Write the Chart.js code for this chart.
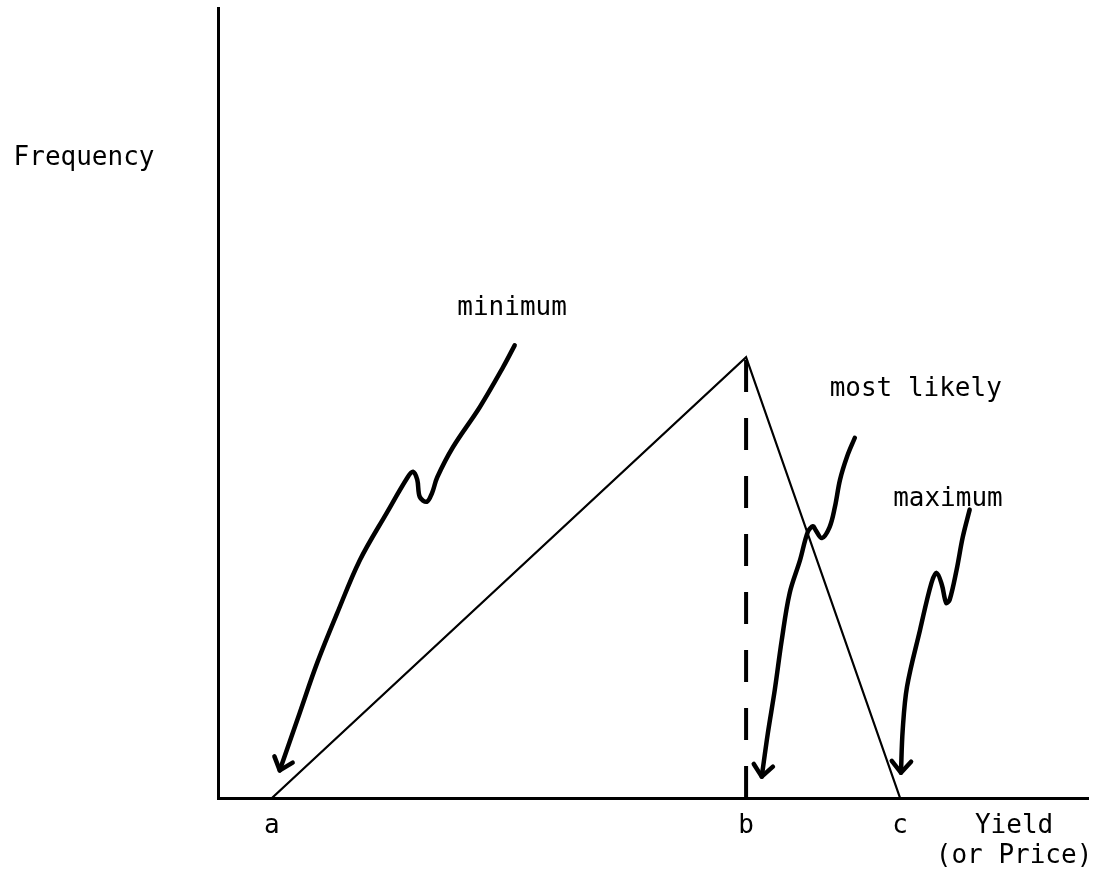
<!DOCTYPE html>
<html lang="en">
<head>
    <meta charset="UTF-8">
    <title>Triangular distribution - Yield (or Price)</title>
    <script src="https://cdn.jsdelivr.net/npm/chart.js"></script>
    <style>
        body { margin: 0; background: #fff; }
    </style>
</head>
<body>
    <canvas id="triChart" width="1107" height="882"></canvas>

    <script>
        // x = yield (or price), y = frequency, both on a 0..100 scale
        const pointNames = ["a", "b", "c"];
        const pointX = [6.2, 60.7, 78.4];
        const peakY = 55.8;

        const axisNameX = 91.5;
        const axisName = ["Yield", "(or Price)"];

        // hand drawn arrows, from the tail down to the tip
        const minArrowX = [34.1, 32.8, 30.1, 27.0, 25.2, 24.6, 24.0, 23.2, 22.9, 22.4, 21.8, 19.4, 16.3, 13.7, 11.4, 9.4, 7.1];
        const minArrowY = [57.3, 54.6, 49.5, 44.4, 40.6, 38.6, 37.5, 38.1, 40.3, 41.3, 40.6, 36.1, 30.1, 23.4, 17.1, 10.8, 3.5];
        const likelyArrowX = [73.2, 72.3, 71.5, 70.9, 70.3, 69.4, 68.7, 68.4, 67.8, 66.9, 65.7, 64.8, 64.0, 63.2, 62.5];
        const likelyArrowY = [45.6, 43.2, 40.3, 36.8, 34.3, 32.9, 33.9, 34.4, 33.7, 30.1, 25.9, 20.0, 13.7, 8.2, 2.7];
        const maxArrowX = [86.4, 85.6, 84.9, 84.1, 83.7, 83.2, 82.6, 82.0, 80.7, 79.2, 78.7, 78.5];
        const maxArrowY = [36.5, 33.0, 28.9, 25.1, 24.7, 27.0, 28.5, 27.2, 21.3, 14.1, 8.6, 3.2];

        const noteText = ["Frequency", "minimum", "most likely", "maximum"];
        const noteX = [-15.4, 33.8, 80.2, 83.9];
        const noteY = [81.0, 62.0, 51.7, 37.8];

        const ink = "#000";
        const font = '"DejaVu Sans Mono", "Liberation Mono", monospace';

        function toPoints(xs, ys) {
            return xs.map((x, i) => ({ x: x, y: ys[i] }));
        }

        function arrowSet(xs, ys) {
            return {
                data: toPoints(xs, ys),
                showLine: true,
                borderColor: ink,
                borderWidth: 4.5,
                pointRadius: 0,
                tension: 0.35,
                borderCapStyle: "round",
                borderJoinStyle: "round",
                arrow: true
            };
        }

        // arrow heads at the last point of each arrow
        const arrowHeads = {
            id: "arrowHeads",
            afterDatasetsDraw(chart) {
                const ctx = chart.ctx;
                const xs = chart.scales.x, ys = chart.scales.y;
                chart.data.datasets.forEach(ds => {
                    if (!ds.arrow) return;
                    const pts = ds.data;
                    const tip = pts[pts.length - 1];
                    const prev = pts[pts.length - 2];
                    const tx = xs.getPixelForValue(tip.x), ty = ys.getPixelForValue(tip.y);
                    const px = xs.getPixelForValue(prev.x), py = ys.getPixelForValue(prev.y);
                    const ang = Math.atan2(ty - py, tx - px);
                    const len = 15, spread = 0.7;
                    ctx.save();
                    ctx.strokeStyle = ink;
                    ctx.lineWidth = 4.5;
                    ctx.lineCap = "round";
                    ctx.lineJoin = "round";
                    ctx.beginPath();
                    ctx.moveTo(tx - len * Math.cos(ang - spread), ty - len * Math.sin(ang - spread));
                    ctx.lineTo(tx, ty);
                    ctx.lineTo(tx - len * Math.cos(ang + spread), ty - len * Math.sin(ang + spread));
                    ctx.stroke();
                    ctx.restore();
                });
            }
        };

        const notes = {
            id: "notes",
            afterDraw(chart) {
                const ctx = chart.ctx;
                ctx.save();
                ctx.fillStyle = ink;
                ctx.font = "26px " + font;
                ctx.textAlign = "center";
                ctx.textBaseline = "middle";
                noteText.forEach((t, i) => {
                    ctx.fillText(t, chart.scales.x.getPixelForValue(noteX[i]), chart.scales.y.getPixelForValue(noteY[i]));
                });
                ctx.restore();
            }
        };

        const tickValues = pointX.concat([axisNameX]);
        const tickLabels = pointNames.concat([axisName]);

        new Chart(document.getElementById("triChart"), {
            type: "scatter",
            data: {
                datasets: [
                    {
                        data: [{ x: pointX[0], y: 0 }, { x: pointX[1], y: peakY }, { x: pointX[2], y: 0 }],
                        showLine: true,
                        borderColor: ink,
                        borderWidth: 2.2,
                        pointRadius: 0,
                        tension: 0
                    },
                    {
                        data: [{ x: pointX[1], y: 0 }, { x: pointX[1], y: peakY }],
                        showLine: true,
                        borderColor: ink,
                        borderWidth: 4,
                        borderDash: [32, 26],
                        pointRadius: 0
                    },
                    arrowSet(minArrowX, minArrowY),
                    arrowSet(likelyArrowX, likelyArrowY),
                    arrowSet(maxArrowX, maxArrowY)
                ]
            },
            options: {
                responsive: false,
                animation: false,
                layout: { padding: { top: 8, right: 19, left: 0, bottom: 0 } },
                plugins: { legend: { display: false }, tooltip: { enabled: false } },
                scales: {
                    x: {
                        type: "linear",
                        min: 0,
                        max: 100,
                        grid: { display: false, drawTicks: false },
                        border: { display: true, color: ink, width: 3 },
                        afterBuildTicks: axis => { axis.ticks = tickValues.map(v => ({ value: v })); },
                        ticks: {
                            color: ink,
                            padding: 13,
                            maxRotation: 0,
                            autoSkip: false,
                            font: { family: font, size: 26, lineHeight: 1.15 },
                            callback: (v, i) => tickLabels[i]
                        },
                        afterFit: axis => { axis.height = 84; }
                    },
                    y: {
                        type: "linear",
                        min: 0,
                        max: 100,
                        grid: { display: false, drawTicks: false },
                        border: { display: true, color: ink, width: 3 },
                        ticks: { display: false },
                        afterFit: axis => { axis.width = 218; }
                    }
                }
            },
            plugins: [arrowHeads, notes]
        });
    </script>
</body>
</html>
